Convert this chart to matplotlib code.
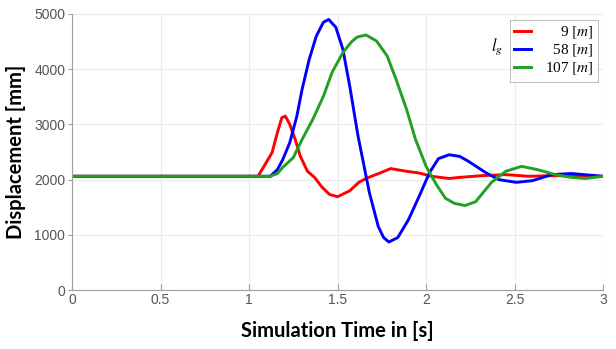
import numpy as np
import matplotlib.pyplot as plt

# displacement in mm over simulation time in s
t_red = [0, 1.05, 1.09, 1.13, 1.16, 1.185, 1.205, 1.23, 1.26, 1.29, 1.33, 1.37, 1.41, 1.455, 1.50,
         1.57, 1.62, 1.66, 1.74, 1.80, 1.89, 1.96, 2.03, 2.13, 2.19, 2.31, 2.45, 2.58, 2.69, 2.86, 3.0]
d_red = [2060, 2060, 2270, 2490, 2850, 3120, 3150, 3000, 2730, 2420, 2150, 2040, 1870, 1730, 1690,
         1800, 1950, 2020, 2120, 2200, 2150, 2120, 2060, 2020, 2040, 2070, 2090, 2060, 2070, 2070, 2060]

t_blue = [0, 1.12, 1.16, 1.19, 1.23, 1.27, 1.30, 1.34, 1.38, 1.42, 1.45, 1.49, 1.53, 1.57, 1.615,
          1.68, 1.73, 1.76, 1.79, 1.84, 1.90, 1.96, 2.02, 2.07, 2.13, 2.19, 2.24, 2.34, 2.41, 2.51,
          2.60, 2.71, 2.82, 3.0]
d_blue = [2060, 2060, 2180, 2360, 2670, 3150, 3640, 4180, 4600, 4850, 4900, 4760, 4360, 3670, 2800,
          1760, 1150, 950, 870, 950, 1270, 1690, 2130, 2380, 2450, 2420, 2330, 2120, 2000, 1950,
          1980, 2090, 2110, 2060]

t_green = [0, 1.12, 1.16, 1.19, 1.25, 1.30, 1.36, 1.42, 1.47, 1.53, 1.58, 1.61, 1.66, 1.72, 1.78,
           1.83, 1.89, 1.94, 2.00, 2.06, 2.11, 2.16, 2.22, 2.28, 2.37, 2.45, 2.54, 2.63, 2.73, 2.82,
           2.90, 3.0]
d_green = [2060, 2060, 2110, 2220, 2400, 2730, 3090, 3510, 3950, 4300, 4500, 4580, 4620, 4510, 4240,
           3820, 3270, 2730, 2240, 1900, 1660, 1570, 1530, 1600, 1950, 2150, 2240, 2180, 2090, 2040,
           2020, 2060]

labels = ['9 $[m]$', '58 $[m]$', '107 $[m]$']
pad = ['\u2007\u2007', '\u2007', '']

plt.rcParams['mathtext.fontset'] = 'stix'

fig = plt.figure(figsize=(6.16, 3.49), dpi=100)
ax = fig.add_axes([0.117, 0.169, 0.862, 0.791])

ax.plot(t_red, d_red, color='#ff0000', lw=2.1, label=pad[0] + labels[0], solid_joinstyle='round')
ax.plot(t_blue, d_blue, color='#0000ff', lw=2.1, label=pad[1] + labels[1], solid_joinstyle='round')
ax.plot(t_green, d_green, color='#22a022', lw=2.1, label=pad[2] + labels[2], solid_joinstyle='round')

ax.set_xlim(0, 3)
ax.set_ylim(0, 5000)
ax.set_xticks([0, 0.5, 1, 1.5, 2, 2.5, 3])
ax.set_xticklabels(['0', '0.5', '1', '1.5', '2', '2.5', '3'])
ax.set_yticks([0, 1000, 2000, 3000, 4000, 5000])

ax.grid(True, color='#ebebeb', lw=0.8)
for s in ['top', 'right']:
    ax.spines[s].set_visible(False)
for s in ['left', 'bottom']:
    ax.spines[s].set_color('#a0a0a0')
ax.tick_params(axis='x', direction='in', length=4, color='#a0a0a0', labelcolor='#555555',
               labelsize=10, pad=2)
ax.tick_params(axis='y', direction='out', length=3, color='#a0a0a0', labelcolor='#555555',
               labelsize=10, pad=2)
for lbl in ax.get_xticklabels() + ax.get_yticklabels():
    lbl.set_fontfamily('Liberation Sans')

ax.set_xlabel('Simulation Time in [s]', fontsize=14.5, fontweight='bold', family='Lato', labelpad=10)
ax.set_ylabel('Displacement [mm]', fontsize=14.5, fontweight='bold', family='Lato', labelpad=6)

leg = ax.legend(loc='upper right', bbox_to_anchor=(0.99, 0.978), frameon=True,
                fancybox=False, edgecolor='#b0b0b0', handlelength=1.1, handletextpad=0.9,
                borderpad=0.3, labelspacing=0.12, borderaxespad=0.0,
                prop={'family': 'Liberation Serif', 'size': 11})
leg.get_frame().set_linewidth(0.8)
fig.text(0.807, 0.865, '$l_g$', fontsize=12, ha='center', va='center')

fig.savefig('out.png', dpi=100)
